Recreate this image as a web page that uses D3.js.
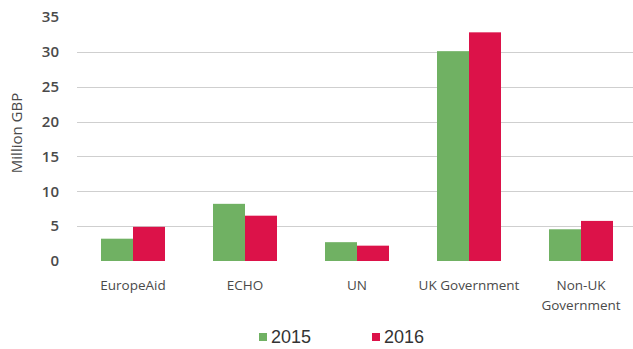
<!DOCTYPE html>
<html>
<head>
<meta charset="utf-8">
<script src="https://cdn.jsdelivr.net/npm/d3@7"></script>
<style>
  body { margin: 0; background: #fff; }
  svg { display: block; }
</style>
</head>
<body>
<svg id="chart" width="633" height="349"></svg>
<script>
// data
const categories = ['EuropeAid', 'ECHO', 'UN', 'UK Government', 'Non-UK Government'];
const years = ['2015', '2016'];
const values2015 = [3.2, 8.2, 2.7, 30.1, 4.55];
const values2016 = [4.9, 6.5, 2.2, 32.8, 5.75];
const yTicks = [0, 5, 10, 15, 20, 25, 30, 35];

const colors = { '2015': '#70b163', '2016': '#dc1249' };

const svg = d3.select('#chart');
const width = 633;
const height = 349;

const x = d3.scaleBand()
  .domain(categories)
  .range([77, 637])
  .paddingInner(0)
  .paddingOuter(0);

const xInner = d3.scaleBand()
  .domain(years)
  .range([0, 64]);

const y = d3.scaleLinear()
  .domain([0, 35])
  .range([261, 17]);

// gridlines (no line at top tick)
svg.append('g')
  .attr('class', 'grid')
  .selectAll('line')
  .data(yTicks.filter(t => t > 0 && t < 35))
  .enter()
  .append('line')
  .attr('x1', 77)
  .attr('x2', width)
  .attr('y1', d => Math.round(y(d)) + 0.5)
  .attr('y2', d => Math.round(y(d)) + 0.5)
  .attr('stroke', '#cfcfcf')
  .attr('stroke-width', 1);

// y tick labels
svg.append('g')
  .selectAll('text')
  .data(yTicks)
  .enter()
  .append('text')
  .attr('x', 59)
  .attr('y', d => y(d))
  .attr('dy', '0.35em')
  .attr('text-anchor', 'end')
  .attr('font-family', 'Open Sans, sans-serif')
  .attr('font-size', 15)
  .attr('font-weight', 600)
  .attr('fill', '#4a4a4a')
  .text(d => d);

// y axis title
svg.append('text')
  .attr('transform', 'translate(22,133) rotate(-90)')
  .attr('text-anchor', 'middle')
  .attr('font-family', 'Open Sans, sans-serif')
  .attr('font-size', 15)
  .attr('fill', '#4a4a4a')
  .text('Million GBP');

// bars
const rows = categories.map((c, i) => ({
  category: c,
  values: [
    { year: '2015', value: values2015[i] },
    { year: '2016', value: values2016[i] }
  ]
}));

const group = svg.append('g')
  .selectAll('g')
  .data(rows)
  .enter()
  .append('g')
  .attr('transform', d => 'translate(' + (x(d.category) + x.bandwidth() / 2 - 32) + ',0)');

group.selectAll('rect')
  .data(d => d.values)
  .enter()
  .append('rect')
  .attr('x', d => xInner(d.year))
  .attr('width', xInner.bandwidth())
  .attr('y', d => y(d.value))
  .attr('height', d => y(0) - y(d.value))
  .attr('fill', d => colors[d.year]);

// category labels
const labelLines = {
  'Non-UK Government': ['Non-UK', 'Government']
};
const labels = svg.append('g')
  .selectAll('text')
  .data(categories)
  .enter()
  .append('text')
  .attr('text-anchor', 'middle')
  .attr('font-family', 'Open Sans, sans-serif')
  .attr('font-size', 13.5)
  .attr('fill', '#4a4a4a')
  .attr('transform', d => 'translate(' + (x(d) + x.bandwidth() / 2) + ',290)');

labels.selectAll('tspan')
  .data(d => labelLines[d] || [d])
  .enter()
  .append('tspan')
  .attr('x', 0)
  .attr('dy', (d, i) => i === 0 ? 0 : 20)
  .text(d => d);

// legend
const legend = svg.append('g')
  .selectAll('g')
  .data(years)
  .enter()
  .append('g')
  .attr('transform', (d, i) => 'translate(' + (259 + i * 113) + ',333)');

legend.append('rect')
  .attr('width', 8)
  .attr('height', 8)
  .attr('fill', d => colors[d]);

legend.append('text')
  .attr('x', 12)
  .attr('y', 4)
  .attr('dy', '0.35em')
  .attr('font-family', 'Liberation Sans, Arial, sans-serif')
  .attr('font-size', 18)
  .attr('fill', '#333')
  .text(d => d);
</script>
</body>
</html>
